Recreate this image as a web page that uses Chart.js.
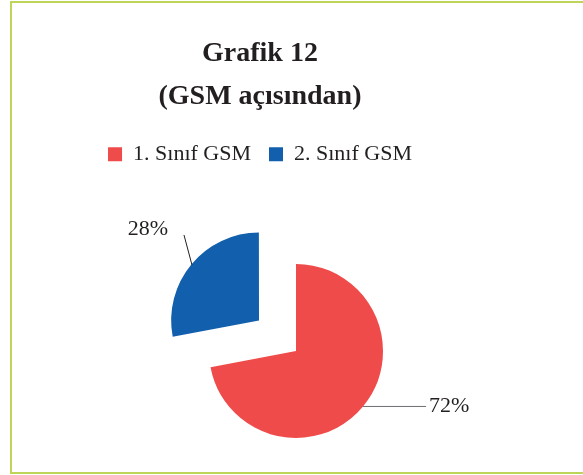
<!DOCTYPE html>
<html>
<head>
<meta charset="utf-8">
<script src="https://cdn.jsdelivr.net/npm/chart.js@4"></script>
<style>
  html, body { margin: 0; padding: 0; background: #fff; }
  #frame { position: absolute; left: 10px; top: 1px; width: 600px; height: 469px;
           border: 2px solid #bdd65a; border-right: none; }
  #wrap { position: absolute; left: 0; top: 0; width: 583px; height: 475px; }
</style>
</head>
<body>
<div id="frame"></div>
<div id="wrap"><canvas id="gsm-chart"></canvas></div>
<script>
const categories = ["1. Sınıf GSM", "2. Sınıf GSM"];
const values = [72, 28];
const colors = ["#ef4b4b", "#1260ad"];
const titleLines = ["Grafik 12", "(GSM açısından)"];

const serif = "'Liberation Serif', 'Times New Roman', serif";

// where the pie sits inside the canvas (title/legend are centred differently)
const pieArea = { left: 83, right: 509, top: 227, bottom: 475 };

// leader line + label placement per slice
const labelStyle = [
  { dx: 63, dy: 0, align: "left", tx: 3, ty: 0, line: "#6d6e71" },
  { dx: -8, dy: -30, align: "right", tx: -16, ty: -6, line: "#231f20" },
];

const movePie = {
  id: "movePie",
  afterLayout(chart) {
    Object.assign(chart.chartArea, pieArea);
    chart.chartArea.width = pieArea.right - pieArea.left;
    chart.chartArea.height = pieArea.bottom - pieArea.top;
  },
};

const percentLabels = {
  id: "percentLabels",
  afterDatasetsDraw(chart) {
    const ctx = chart.ctx;
    const total = values.reduce((a, b) => a + b, 0);
    chart.getDatasetMeta(0).data.forEach((arc, i) => {
      const mid = (arc.startAngle + arc.endAngle) / 2;
      const shift = (arc.options.offset || 0) / 4;
      const cx = arc.x + Math.cos(mid) * shift;
      const cy = arc.y + Math.sin(mid) * shift;
      const x0 = cx + Math.cos(mid) * arc.outerRadius;
      const y0 = cy + Math.sin(mid) * arc.outerRadius;
      const s = labelStyle[i];
      const x1 = x0 + s.dx;
      const y1 = y0 + s.dy;
      ctx.save();
      ctx.strokeStyle = s.line;
      ctx.lineWidth = 1;
      ctx.beginPath();
      ctx.moveTo(x0, y0);
      ctx.lineTo(x1, y1);
      ctx.stroke();
      ctx.fillStyle = "#231f20";
      ctx.font = "22px " + serif;
      ctx.textAlign = s.align;
      ctx.textBaseline = "middle";
      ctx.fillText(Math.round((values[i] / total) * 100) + "%", x1 + s.tx, y1 + s.ty);
      ctx.restore();
    });
  },
};

document.addEventListener("DOMContentLoaded", () => {
  new Chart(document.getElementById("gsm-chart"), {
    type: "pie",
    data: {
      labels: categories,
      datasets: [
        {
          data: values,
          backgroundColor: colors,
          borderWidth: 0,
          offset: [0, 192],
          hoverOffset: 0,
          radius: 87,
          clip: false,
        },
      ],
    },
    options: {
      responsive: true,
      maintainAspectRatio: false,
      animation: false,
      events: [],
      layout: { padding: { top: 2, left: 11, right: 74, bottom: 3 } },
      plugins: {
        title: {
          display: true,
          text: titleLines,
          color: "#231f20",
          font: { family: serif, size: 28, weight: "bold", lineHeight: 1.54 },
          padding: { top: 30, bottom: 7 },
        },
        legend: {
          position: "top",
          labels: {
            color: "#231f20",
            font: { family: serif, size: 22 },
            boxWidth: 14,
            boxHeight: 14,
            padding: 18,
          },
        },
        tooltip: { enabled: false },
      },
    },
    plugins: [movePie, percentLabels],
  });
});
</script>
</body>
</html>
